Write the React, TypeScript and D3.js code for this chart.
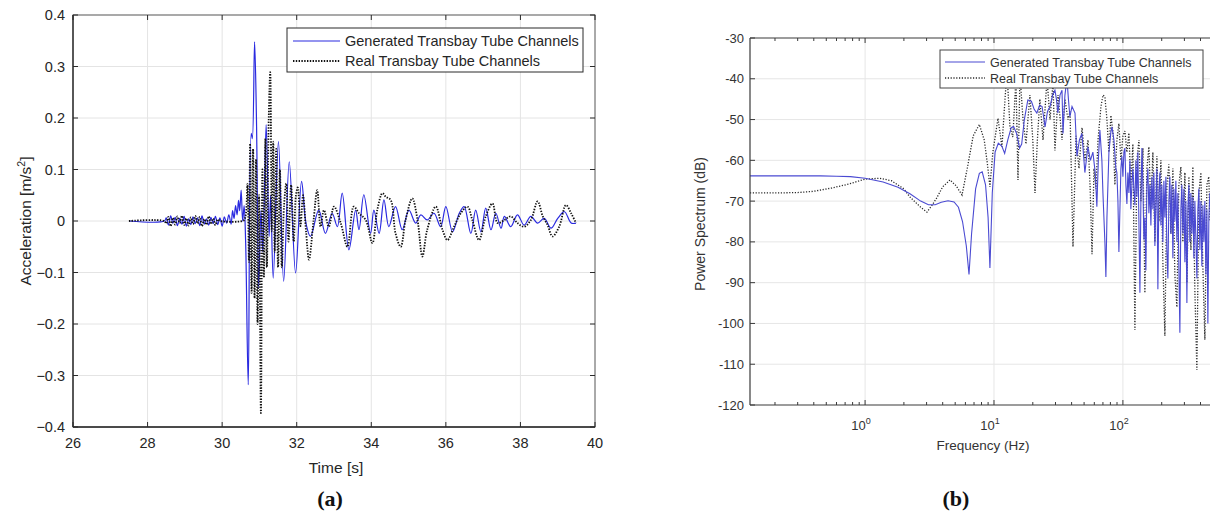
import React from "react";
import * as d3 from "d3";

// ---------- Data: (a) acceleration time history ----------
const genTime = [27.5, 28.45, 28.5, 28.56, 28.62, 28.68, 28.74, 28.8, 28.86, 28.92, 28.98, 29.04, 29.1, 29.16, 29.22, 29.28, 29.34, 29.4, 29.46, 29.52, 29.58, 29.64, 29.7, 29.76, 29.82, 29.88, 29.94, 30.0, 30.06, 30.12, 30.18, 30.24, 30.28, 30.32, 30.36, 30.4, 30.44, 30.47, 30.51, 30.55, 30.59, 30.63, 30.7, 30.78, 30.81, 30.87, 30.92, 30.98, 31.04, 31.09, 31.18, 31.26, 31.3, 31.37, 31.51, 31.65, 31.8, 31.97, 32.13, 32.25, 32.37, 32.59, 32.77, 32.95, 33.09, 33.22, 33.4, 33.58, 33.67, 33.8, 33.98, 34.07, 34.21, 34.34, 34.47, 34.65, 34.83, 35.01, 35.19, 35.33, 35.5, 35.68, 35.86, 36.0, 36.18, 36.36, 36.49, 36.67, 36.8, 36.94, 37.07, 37.21, 37.34, 37.48, 37.57, 37.74, 37.92, 38.1, 38.28, 38.46, 38.64, 38.82, 39.0, 39.18, 39.36, 39.49];
const genAccel = [0, 0, 0.006, -0.008, 0.01, -0.004, 0.007, -0.009, 0.005, -0.006, 0.009, -0.01, 0.004, -0.007, 0.008, -0.005, 0.006, -0.009, 0.01, -0.006, 0.004, -0.008, 0.007, -0.005, 0.009, -0.007, 0.006, -0.01, 0.008, -0.004, 0.012, -0.006, 0.02, 0.005, 0.03, 0.012, 0.04, 0.02, 0.06, 0.0, 0.03, -0.04, -0.318, 0.17, 0.16, 0.348, 0.2, -0.13, 0.02, -0.06, 0.187, -0.03, 0.05, -0.111, 0.154, -0.117, 0.115, -0.101, 0.077, -0.005, -0.03, 0.021, -0.024, 0.015, -0.011, 0.054, -0.056, 0.021, -0.017, 0.051, -0.024, 0.021, -0.024, 0.041, -0.011, 0.028, -0.017, 0.021, -0.004, 0.012, 0.002, 0.015, -0.011, 0.028, -0.021, 0.015, 0.028, -0.024, 0.021, -0.021, 0.025, -0.017, 0.015, -0.014, 0.009, -0.011, 0.012, -0.008, 0.009, -0.004, 0.005, -0.014, 0.005, 0.018, -0.004, -0.004];

const realTime = [27.5, 28.45, 28.5, 28.56, 28.62, 28.68, 28.74, 28.8, 28.86, 28.92, 28.98, 29.04, 29.1, 29.16, 29.22, 29.28, 29.34, 29.4, 29.46, 29.52, 29.58, 29.64, 29.7, 29.76, 29.82, 29.88, 29.95, 30.55, 30.6, 30.64, 30.68, 30.72, 30.75, 30.79, 30.83, 30.87, 30.91, 30.95, 30.99, 31.04, 31.08, 31.12, 31.16, 31.2, 31.25, 31.29, 31.33, 31.37, 31.41, 31.45, 31.5, 31.55, 31.6, 31.66, 31.72, 31.78, 31.85, 31.92, 31.98, 32.03, 32.1, 32.17, 32.25, 32.33, 32.45, 32.55, 32.64, 32.73, 32.86, 33.0, 33.18, 33.36, 33.53, 33.67, 33.85, 34.03, 34.16, 34.3, 34.39, 34.52, 34.65, 34.79, 34.92, 35.1, 35.24, 35.37, 35.5, 35.73, 35.91, 36.04, 36.22, 36.4, 36.58, 36.71, 36.89, 37.07, 37.25, 37.39, 37.57, 37.74, 37.92, 38.1, 38.28, 38.46, 38.6, 38.73, 38.86, 39.04, 39.22, 39.36, 39.49];
const realAccel = [0, 0, -0.005, 0.008, -0.01, 0.006, -0.007, 0.009, -0.004, 0.01, -0.008, 0.005, -0.009, 0.007, -0.006, 0.01, -0.005, 0.008, -0.01, 0.004, -0.007, 0.009, -0.006, 0.005, -0.008, 0.003, 0, 0, 0.003, 0.015, 0.072, -0.08, 0.15, -0.14, 0.14, -0.15, 0.12, -0.2, 0.05, -0.373, 0.1, -0.11, 0.16, -0.09, 0.2, 0.289, -0.02, 0.154, -0.06, 0.14, -0.09, 0.1, -0.09, 0.03, 0.073, -0.04, 0.07, -0.04, 0.05, 0.065, -0.01, 0.05, -0.02, -0.075, 0.0, 0.06, -0.011, 0.021, -0.011, 0.028, -0.004, -0.05, 0.028, 0.015, 0.002, -0.043, 0.021, 0.054, 0.047, 0.041, -0.024, -0.05, 0.002, 0.044, 0.002, -0.069, -0.017, 0.028, -0.017, -0.037, -0.011, 0.015, 0.028, 0.002, -0.037, 0.009, 0.034, -0.004, 0.002, 0.009, -0.004, -0.011, 0.002, 0.038, 0.009, -0.008, -0.03, -0.011, 0.031, 0.015, -0.004];

const timeTicks = [26, 28, 30, 32, 34, 36, 38, 40];
const accelTicks = [-0.4, -0.3, -0.2, -0.1, 0, 0.1, 0.2, 0.3, 0.4];

// ---------- Data: (b) power spectrum ----------
const genFreq = [0.128, 0.2, 0.3, 0.45, 0.6, 0.77, 1.0, 1.38, 1.8, 2.23, 2.7, 3.1, 3.5, 3.9, 4.4, 4.9, 5.3, 5.7, 6.1, 6.4, 6.7, 7.2, 7.7, 8.1, 8.6, 9.0, 9.3, 9.7, 10.2, 10.8, 11.5, 12.1, 12.8, 13.6, 14.2, 15.0, 15.8, 16.4, 17.2, 18.3, 19.5, 20.5, 21.5, 22.6, 23.6, 24.9, 26.0, 27.2, 28.5, 29.7, 30.5, 31.3, 32.5, 33.7, 34.3, 35.5, 36.8, 37.8, 38.8, 40.3, 42.5, 44.0, 46.0, 48.1, 50.7, 53.5, 56.0, 58.5, 61.0, 62.8, 64.5, 66.3, 68.7, 70.0, 72.5, 73.8, 75.2, 77.9, 80.7, 82.2, 85.2, 88.2, 89.8, 91.5, 93.1, 96.5, 98.2, 100, 101.8, 103.6, 105.5, 107.4, 109.3, 111.3, 113.3, 115.3, 117.4, 119.5, 121.7, 123.9, 126.1, 128.4, 130.7, 133.1, 135.5, 137.9, 140.4, 142.9, 145.5, 148.1, 150.8, 153.5, 156.3, 159.1, 161.9, 164.9, 167.8, 170.8, 173.9, 177.1, 180.3, 183.5, 186.8, 190.2, 193.6, 197.1, 200.6, 204.2, 207.9, 211.7, 215.5, 219.4, 223.3, 227.3, 231.4, 235.6, 239.8, 244.2, 248.6, 253.0, 257.6, 262.3, 267.0, 271.8, 276.7, 281.7, 286.7, 291.9, 297.2, 302.6, 308.0, 313.6, 319.2, 325.0, 330.8, 336.8, 342.8, 349.0, 355.3, 361.7, 368.2, 374.9, 381.6, 388.5, 395.5, 402.6, 409.8, 417.2, 424.7, 432.4, 440.2, 448.1, 456.2, 464.4, 472.8];
const genPower = [-63.8, -63.8, -63.8, -63.8, -63.9, -64.0, -64.4, -65.3, -66.6, -68.2, -70.0, -70.9, -70.9, -70.3, -69.9, -70.2, -71.5, -75, -81, -88, -78, -67, -63.2, -62.8, -66, -74, -86.4, -68, -58, -55.8, -56.5, -58.3, -55, -52, -51.7, -53.5, -57, -56, -50, -45.2, -45.5, -47.5, -48.4, -46.5, -46.8, -51.8, -48, -46.8, -44, -42.8, -45, -48.4, -44, -42.8, -53.4, -44, -40, -45, -49.3, -46.8, -48.4, -59, -55, -53.4, -63, -56.7, -60, -58, -63, -71.4, -60, -52.6, -60, -68, -80, -88.6, -74, -58, -53, -51.8, -55, -62, -63, -70, -82.5, -62, -59, -64, -58, -57, -66, -70.7, -63, -68, -60, -72, -66, -62, -67, -71, -60, -69, -58, -75, -92.5, -70, -57, -66, -79.5, -74, -87, -66, -62, -73, -66, -76, -64, -72, -63, -81, -70, -62, -91.6, -68, -63, -76, -66, -80, -65, -74, -64, -82, -89, -70, -64, -78, -66, -84, -67, -75, -65, -80, -68, -86, -102.3, -72, -66, -78, -67, -85, -70, -95, -72, -66, -80, -68, -78, -69, -84, -70, -79, -89, -72, -67, -82, -70, -86, -71, -80, -70, -88, -72, -100, -74, -68];

const realFreq = [0.128, 0.2, 0.3, 0.4, 0.55, 0.75, 1.0, 1.3, 1.6, 2.0, 2.23, 2.7, 3.02, 3.31, 3.6, 4.0, 4.56, 5.1, 5.65, 6.2, 6.9, 7.7, 8.4, 8.9, 9.3, 9.8, 10.74, 11.53, 12.0, 12.6, 13.3, 14.0, 14.8, 15.35, 15.9, 16.8, 17.7, 19.0, 20.0, 20.8, 21.7, 22.7, 24.0, 25.8, 27.2, 28.7, 29.7, 31.4, 33.7, 35.5, 37.5, 38.9, 41.0, 43.3, 45.6, 48.2, 50.8, 53.6, 55.6, 57.6, 59.7, 61.8, 64.1, 67.5, 70.0, 72.5, 75.2, 77.9, 80.7, 83.7, 86.7, 89.8, 93.1, 96.5, 100.0, 103.6, 107.4, 111.3, 115.3, 119.5, 123.9, 128.4, 133.1, 137.9, 142.9, 148.1, 153.5, 159.1, 164.9, 170.8, 177.1, 183.5, 190.2, 197.1, 204.2, 211.7, 219.4, 227.3, 235.6, 244.2, 253.0, 262.3, 271.8, 281.7, 291.9, 302.6, 313.6, 325.0, 336.8, 349.0, 361.7, 374.9, 388.5, 402.6, 417.2, 432.4, 448.1, 464.4, 472.8];
const realPower = [-68, -68, -67.9, -67.6, -66.8, -65.8, -64.6, -64.4, -65.0, -67, -69, -71.5, -72.7, -71, -69.2, -66.5, -64.8, -66.3, -68.5, -62, -54, -51.2, -55, -61, -66.5, -58, -49.7, -56.7, -48, -38, -51.8, -54.3, -40, -64.8, -39, -50, -56, -44, -55, -68, -55, -45, -55, -40, -50, -41, -57.6, -44, -55, -45, -50, -48, -81.2, -54, -62, -52, -60, -55, -66, -83, -62, -67, -55, -47, -44, -44.4, -50, -58, -49, -53, -66, -55, -51, -60, -54, -52.8, -58, -53.3, -66, -56, -101.6, -60, -55, -70, -57, -92.5, -62, -56.7, -72, -58, -80, -59, -75, -60, -85, -103, -66, -61, -78, -62, -88, -96, -66, -61.6, -80, -63, -90, -64, -82, -61.6, -92, -111.4, -68, -63, -86, -104, -66, -64, -75];

const powerTicks = [-120, -110, -100, -90, -80, -70, -60, -50, -40, -30];
const freqTicks = [1, 10, 100];
const legendLabels = ["Generated Transbay Tube Channels", "Real Transbay Tube Channels"];

const FONT = "'Liberation Sans', Arial, Helvetica, sans-serif";

function PanelA() {
  const L = 73, T = 15, R = 595, B = 427;
  const x = d3.scaleLinear().domain([26, 40]).range([L, R]);
  const y = d3.scaleLinear().domain([-0.4, 0.4]).range([B, T]);
  const curve = d3.curveCatmullRom.alpha(0.5);
  const lineGen = d3.line<number>().x((_, i) => x(genTime[i])).y((d) => y(d)).curve(curve);
  const lineReal = d3.line<number>().x((_, i) => x(realTime[i])).y((d) => y(d)).curve(curve);
  const axisColor = "#2b2b2b";
  return (
    <g>
      <defs>
        <clipPath id="clipA">
          <rect x={L} y={T} width={R - L} height={B - T} />
        </clipPath>
      </defs>
      {timeTicks.slice(1, -1).map((t) => (
        <line key={"gx" + t} x1={x(t)} x2={x(t)} y1={T} y2={B} stroke="#e4e4e4" strokeWidth={1} />
      ))}
      {accelTicks.slice(1, -1).map((v) => (
        <line key={"gy" + v} x1={L} x2={R} y1={y(v)} y2={y(v)} stroke="#e4e4e4" strokeWidth={1} />
      ))}
      <g clipPath="url(#clipA)">
        <path d={lineGen(genAccel) || ""} fill="none" stroke="#2a2ae0" strokeWidth={1.2} />
        <path d={lineReal(realAccel) || ""} fill="none" stroke="#111" strokeWidth={1.8} strokeDasharray="1.4,1.4" />
      </g>
      <rect x={L} y={T} width={R - L} height={B - T} fill="none" stroke="#555" strokeWidth={1} />
      <line x1={L} x2={R} y1={B} y2={B} stroke={axisColor} strokeWidth={1.3} />
      <line x1={L} x2={L} y1={T} y2={B} stroke={axisColor} strokeWidth={1.3} />
      {timeTicks.map((t) => (
        <g key={"tx" + t}>
          <line x1={x(t)} x2={x(t)} y1={B} y2={B - 5} stroke={axisColor} />
          <line x1={x(t)} x2={x(t)} y1={T} y2={T + 5} stroke={axisColor} />
          <text x={x(t)} y={B + 21} textAnchor="middle" fontSize={14.5} fill="#262626" fontFamily={FONT}>
            {t}
          </text>
        </g>
      ))}
      {accelTicks.map((v) => (
        <g key={"ty" + v}>
          <line x1={L} x2={L + 5} y1={y(v)} y2={y(v)} stroke={axisColor} />
          <line x1={R} x2={R - 5} y1={y(v)} y2={y(v)} stroke={axisColor} />
          <text x={L - 8} y={y(v) + 5} textAnchor="end" fontSize={14.5} fill="#262626" fontFamily={FONT}>
            {v === 0 ? "0" : d3.format(".1f")(v)}
          </text>
        </g>
      ))}
      <text x={336} y={473} textAnchor="middle" fontSize={15.5} fill="#262626" fontFamily={FONT}>
        Time [s]
      </text>
      <text transform={`translate(31, ${221}) rotate(-90)`} textAnchor="middle" fontSize={15.5} fill="#262626" fontFamily={FONT}>
        Acceleration [m/s<tspan dy={-6} fontSize={10.5}>2</tspan>
        <tspan dy={6}>]</tspan>
      </text>
      {/* legend */}
      <rect x={287} y={28} width={296} height={44} fill="#fff" stroke="#2b2b2b" strokeWidth={1} />
      <line x1={293} x2={340} y1={41} y2={41} stroke="#2a2ae0" strokeWidth={1.2} />
      <line x1={293} x2={340} y1={61} y2={61} stroke="#111" strokeWidth={1.8} strokeDasharray="1.4,1.4" />
      <text x={345} y={46} fontSize={14.5} fill="#262626" fontFamily={FONT}>
        {legendLabels[0]}
      </text>
      <text x={345} y={66} fontSize={14.5} fill="#262626" fontFamily={FONT}>
        {legendLabels[1]}
      </text>
      <text x={330} y={506} textAnchor="middle" fontSize={22} fontWeight="bold" fontFamily="'Liberation Serif', 'Times New Roman', serif" fill="#111">
        (a)
      </text>
    </g>
  );
}

function PanelB() {
  const L = 750, T = 38, R = 1213, B = 405;
  const x = d3.scaleLog().domain([0.128, 500]).range([L, R]);
  const y = d3.scaleLinear().domain([-120, -30]).range([B, T]);
  const lineGen = d3.line<number>().x((_, i) => x(genFreq[i])).y((d) => y(d));
  const lineReal = d3.line<number>().x((_, i) => x(realFreq[i])).y((d) => y(d));
  const axisColor = "#3a3a3a";
  const minor: number[] = [];
  [0.1, 1, 10, 100].forEach((dec) => {
    for (let k = 2; k <= 9; k++) {
      const f = dec * k;
      if (f >= 0.128 && f <= 500) minor.push(f);
    }
  });
  const FS = 13;
  return (
    <g>
      <defs>
        <clipPath id="clipB">
          <rect x={L} y={T} width={R - L} height={B - T} />
        </clipPath>
      </defs>
      {freqTicks.map((f) => (
        <line key={"gx" + f} x1={x(f)} x2={x(f)} y1={T} y2={B} stroke="#e6e6e6" strokeWidth={1} />
      ))}
      {powerTicks.slice(1, -1).map((v) => (
        <line key={"gy" + v} x1={L} x2={R} y1={y(v)} y2={y(v)} stroke="#e6e6e6" strokeWidth={1} />
      ))}
      <g clipPath="url(#clipB)">
        <path d={lineReal(realPower) || ""} fill="none" stroke="#2a2a2a" strokeWidth={1.3} strokeDasharray="1.2,1.6" />
        <path d={lineGen(genPower) || ""} fill="none" stroke="#4a4ad2" strokeWidth={1.1} />
      </g>
      <line x1={L} x2={R} y1={T} y2={T} stroke={axisColor} strokeWidth={1.2} />
      <line x1={L} x2={R} y1={B} y2={B} stroke={axisColor} strokeWidth={1.2} />
      <line x1={L} x2={L} y1={T} y2={B} stroke={axisColor} strokeWidth={1.2} />
      {minor.map((f) => (
        <g key={"mn" + f}>
          <line x1={x(f)} x2={x(f)} y1={B} y2={B - 3} stroke={axisColor} />
          <line x1={x(f)} x2={x(f)} y1={T} y2={T + 3} stroke={axisColor} />
        </g>
      ))}
      {freqTicks.map((f, i) => (
        <g key={"tx" + f}>
          <line x1={x(f)} x2={x(f)} y1={B} y2={B - 5} stroke={axisColor} />
          <line x1={x(f)} x2={x(f)} y1={T} y2={T + 5} stroke={axisColor} />
          <text x={x(f) - 4} y={B + 25} textAnchor="middle" fontSize={FS} fill="#333" fontFamily={FONT}>
            10<tspan dy={-6} fontSize={9}>{i}</tspan>
          </text>
        </g>
      ))}
      {powerTicks.map((v) => (
        <g key={"ty" + v}>
          <line x1={L} x2={L + 5} y1={y(v)} y2={y(v)} stroke={axisColor} />
          <text x={L - 6} y={y(v) + 4.5} textAnchor="end" fontSize={FS} fill="#333" fontFamily={FONT}>
            {v}
          </text>
        </g>
      ))}
      <text x={983} y={450} textAnchor="middle" fontSize={13.5} fill="#333" fontFamily={FONT}>
        Frequency (Hz)
      </text>
      <text transform={`translate(705, ${224}) rotate(-90)`} textAnchor="middle" fontSize={14} fill="#333" fontFamily={FONT}>
        Power Spectrum (dB)
      </text>
      {/* legend */}
      <rect x={940} y={50} width={263} height={38} fill="#fff" stroke="#444" strokeWidth={1} />
      <line x1={945} x2={985} y1={62} y2={62} stroke="#4a4ad2" strokeWidth={1.1} />
      <line x1={945} x2={985} y1={78} y2={78} stroke="#2a2a2a" strokeWidth={1.3} strokeDasharray="1.2,1.6" />
      <text x={990} y={66.5} fontSize={12.5} fill="#333" fontFamily={FONT}>
        {legendLabels[0]}
      </text>
      <text x={990} y={82.5} fontSize={12.5} fill="#333" fontFamily={FONT}>
        {legendLabels[1]}
      </text>
      <text x={956} y={506} textAnchor="middle" fontSize={22} fontWeight="bold" fontFamily="'Liberation Serif', 'Times New Roman', serif" fill="#111">
        (b)
      </text>
    </g>
  );
}

export default function App() {
  return (
    <svg
      width={1210}
      height={519}
      viewBox="0 0 1210 519"
      style={{ position: "absolute", left: 0, top: 0, background: "#fff" }}
    >
      <rect x={0} y={0} width={1210} height={519} fill="#fff" />
      <PanelA />
      <PanelB />
    </svg>
  );
}
